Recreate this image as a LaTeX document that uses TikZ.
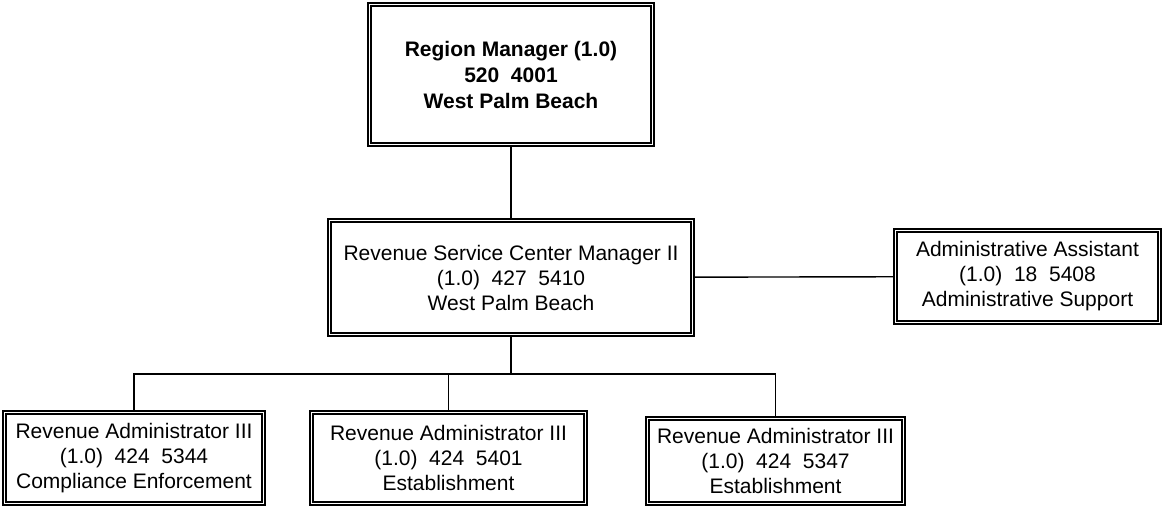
\documentclass[tikz,border=0pt]{standalone}
\usepackage{fontspec}
\setmainfont{Liberation Sans}
\usetikzlibrary{positioning}

\begin{document}
\begin{tikzpicture}[x=1pt, y=-1pt,
    box/.style={draw, double, line width=1.4pt, double distance=1.8pt, align=center, inner sep=0pt, font=\fontsize{21}{25}\selectfont},
    wire/.style={line width=1.4pt},
    ]
    \useasboundingbox (0,0) rectangle (1164,507);
    % Nodes
    \node[box, font=\fontsize{21}{26}\selectfont\bfseries, minimum width=283pt, minimum height=140pt] (rm) at (511,74.5) {Region Manager (1.0)\\520~ 4001\\West Palm Beach};
    \node[box, minimum width=363pt, minimum height=114pt] (rscm) at (511,277.5) {Revenue Service Center Manager II\\(1.0)~ 427~ 5410\\West Palm Beach};
    \node[box, minimum width=264pt, minimum height=92pt] (aa) at (1027.5,276.5) {Administrative Assistant\\(1.0)~ 18~ 5408\\Administrative Support};
    \node[box, minimum width=259pt, minimum height=91pt] (ra1) at (134,458) {Revenue Administrator III\\(1.0)~ 424~ 5344\\Compliance Enforcement};
    \node[box, minimum width=274pt, minimum height=91pt] (ra2) at (448.5,458) {Revenue Administrator III\\(1.0)~ 424~ 5401\\Establishment};
    \node[box, minimum width=256pt, minimum height=85pt] (ra3) at (775.5,461) {Revenue Administrator III\\(1.0)~ 424~ 5347\\Establishment};
    \coordinate (bus) at (511,374);

    % Lines
    \draw[wire] (rm) -- (rscm);
    \draw[wire] (rscm) -- (aa);
    \draw[wire] (rscm) -- (bus);
    \draw[wire] (ra1.north) |- (bus) -| (ra3.north);
    \draw[wire] (bus -| ra2.north) -- (ra2.north);
\end{tikzpicture}
\end{document}
